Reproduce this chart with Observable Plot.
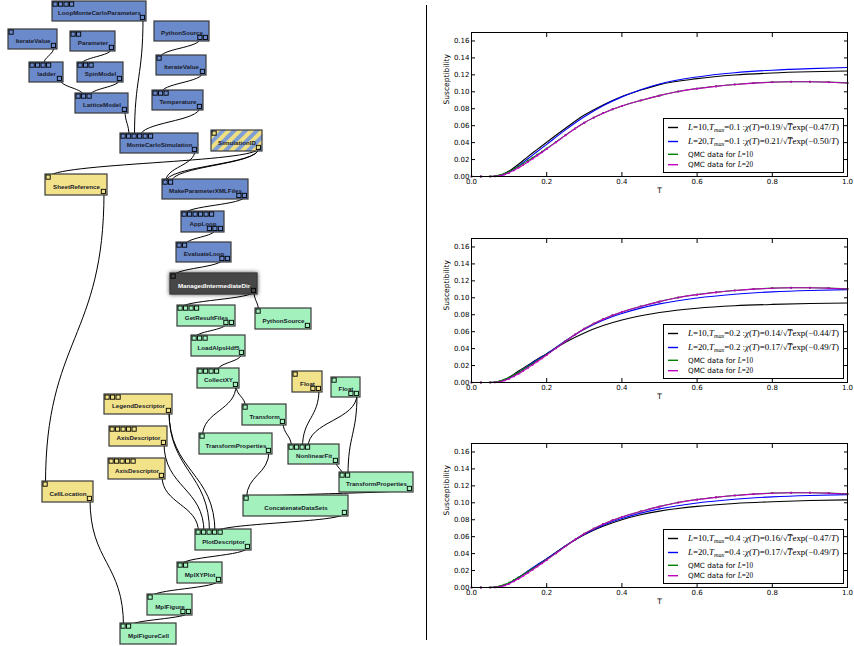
<!DOCTYPE html>
<html><head><meta charset="utf-8">
<script src="https://cdn.jsdelivr.net/npm/d3@7"></script>
<script src="https://cdn.jsdelivr.net/npm/@observablehq/plot@0.6"></script>
<style>
body{margin:0;background:#fff;}
#root{position:relative;width:854px;height:646px;overflow:hidden;background:#fff;}
#sep{position:absolute;left:426px;top:5px;width:0;height:635px;border-left:1px solid #000;}
</style></head><body><div id="root"><div id="sep"></div></div>
<script>
// ---------------- chart data ----------------
const xTicks = [0, 0.2, 0.4, 0.6, 0.8, 1.0];
const yTicks = [0, 0.02, 0.04, 0.06, 0.08, 0.10, 0.12, 0.14, 0.16];
const T = [0,0.05,0.0625,0.075,0.0875,0.1,0.125,0.15,0.175,0.2,0.25,0.3,0.35,0.4,0.45,0.5,0.6,0.7,0.8,0.9,1.0];
const fit1L10 = [0,0,0.0002,0.0012,0.0033,0.0065,0.0145,0.0235,0.032,0.0405,0.057,0.0725,0.0845,0.0945,0.102,0.1085,0.1155,0.1198,0.1222,0.1236,0.1245];
const fit1L20 = [0,0,0.0001,0.0008,0.0025,0.0052,0.0125,0.021,0.0295,0.038,0.055,0.0705,0.0835,0.094,0.1025,0.1092,0.1175,0.1225,0.1255,0.1274,0.1287];
const fit2L10 = [0,0,0.0003,0.0015,0.0035,0.0062,0.0135,0.0205,0.0275,0.034,0.0475,0.0585,0.0672,0.0738,0.0788,0.0826,0.0877,0.0906,0.0922,0.0932,0.0938];
const fit2L20 = [0,0,0.0001,0.0009,0.0026,0.005,0.0118,0.0195,0.0268,0.0338,0.0492,0.0628,0.0735,0.0815,0.0878,0.0928,0.0998,0.1042,0.107,0.1087,0.1097];
const fit3L10 = [0,0,0.0001,0.0009,0.0026,0.005,0.012,0.019,0.0265,0.034,0.049,0.0622,0.0722,0.08,0.0858,0.0902,0.0958,0.0992,0.1013,0.1027,0.1035];
const fit3L20 = [0,0,0.0001,0.0009,0.0026,0.005,0.0118,0.0195,0.0268,0.0338,0.0492,0.0628,0.0735,0.0815,0.0878,0.0928,0.0998,0.1042,0.107,0.1087,0.1097];
const Tq = [0,0.025,0.05,0.0625,0.075,0.0875,0.1,0.1125,0.125,0.1375,0.15,0.1625,0.175,0.1875,0.2,0.225,0.25,0.275,0.3,0.325,0.35,0.375,0.4,0.45,0.5,0.55,0.6,0.65,0.7,0.75,0.8,0.85,0.9,0.95,1.0];
const qmcL10 = [0,0,0.0001,0.0004,0.0016,0.0034,0.0057,0.0087,0.0118,0.0152,0.0187,0.0222,0.0258,0.0294,0.033,0.0408,0.0488,0.0565,0.0635,0.0695,0.0747,0.0793,0.0833,0.0898,0.0955,0.1003,0.1038,0.1065,0.1087,0.1103,0.1114,0.1119,0.1119,0.1114,0.1105];
const qmcL20 = [0,0,0,0.0001,0.0009,0.0023,0.0044,0.0072,0.0103,0.0137,0.0172,0.0209,0.0247,0.0286,0.0324,0.0404,0.0486,0.0564,0.0635,0.0695,0.0747,0.0793,0.0833,0.0898,0.0955,0.1003,0.1037,0.1064,0.1086,0.1102,0.1113,0.1118,0.1118,0.1113,0.1104];
const Tmax = ["0.1", "0.2", "0.4"];
const coefL10 = [["0.19","0.47"],["0.14","0.44"],["0.16","0.47"]];
const coefL20 = [["0.21","0.50"],["0.17","0.49"],["0.17","0.49"]];
const seriesColors = ["#000000", "#0000ff", "#008000", "#bf00bf"];

// ---------------- workflow data ----------------
const nodeNames = ["LoopMonteCarloParameters","IterateValue","Parameter","ladder","SpinModel","LatticeModel","PythonSource","IterateValue","Temperature","MonteCarloSimulation","SimulationID","SheetReference","MakeParameterXMLFiles","AppLoop","EvaluateLoop","ManagedIntermediateDir","GetResultFiles","PythonSource","LoadAlpsHdf5","CollectXY","Float","Float","LegendDescriptor","Transform","AxisDescriptor","TransformProperties","NonlinearFit","AxisDescriptor","TransformProperties","CellLocation","ConcatenateDataSets","PlotDescriptor","MplXYPlot","MplFigure","MplFigureCell"];
const nodeX1 = [52,8,70,29,77,75,154,156,152,120,211,45,162,181,176,170,177,255,191,197,292,331,104,242,109,199,288,108,339,42,243,195,177,147,120];
const nodeY1 = [1,29,31,62,62,93,21,55,90,133,130,174,179,211,242,273,305,308,335,368,371,377,394,404,426,433,444,458,472,481,495,529,562,594,623];
const nodeX2 = [146,57,115,63,123,128,209,206,203,198,262,107,248,224,231,257,235,311,245,239,322,360,172,286,167,272,339,165,413,93,348,251,222,192,176];
const nodeY2 = [21,49,51,82,82,113,41,75,110,153,151,195,199,232,262,294,326,329,356,388,392,397,414,425,446,454,464,479,492,502,516,550,583,615,644];
const nodeKind = ["blue","blue","blue","blue","blue","blue","blue","blue","blue","blue","stripes","yellow","blue","blue","blue","dark","green","green","green","green","yellow","green","yellow","green","yellow","green","green","yellow","green","yellow","green","green","green","green","green"];
const nodeIn = [4,1,2,4,3,3,0,1,3,6,1,1,2,6,2,1,4,1,3,4,1,1,3,1,5,1,4,5,2,1,1,5,2,1,2];
const nodeOut = [1,1,1,1,1,1,2,1,1,1,1,1,2,3,2,1,2,1,1,1,2,2,1,1,1,1,1,1,1,1,1,1,1,2,0];
// connections: [from node, output port counted from right, to node, input port]
const conns = [[1,0,3,2],[2,0,4,0],[3,0,5,1],[4,0,5,2],[5,0,9,1],[0,0,9,2],[8,0,9,3],[6,1,7,0],[7,0,8,1],[9,0,12,0],[10,0,12,1],[10,0,12,0],[10,0,11,0],[12,0,13,0],[13,1,14,1],[14,1,15,0],[15,0,16,0],[15,0,17,0],[16,1,18,0],[18,0,19,3],[19,0,23,0],[19,0,25,0],[23,0,26,0],[20,0,26,2],[21,0,26,3],[21,0,28,1],[26,0,28,0],[25,0,30,0],[28,0,30,0],[30,0,31,3],[22,0,31,2],[22,0,31,3],[24,0,31,1],[27,0,31,0],[31,0,32,0],[32,0,33,0],[33,0,34,1],[29,0,34,0],[11,0,29,0]];

const root = document.getElementById("root");

// ---------------- workflow diagram ----------------
(function(){
  const kindFill = {blue:"#6a8acb", green:"#a3f2bd", yellow:"#f2e38a", dark:"#474747", stripes:"url(#stripes)"};
  const nodes = nodeNames.map((name,i)=>({name, x1:nodeX1[i], y1:nodeY1[i], x2:nodeX2[i], y2:nodeY2[i], kind:nodeKind[i], nIn:nodeIn[i], nOut:nodeOut[i]}));
  const P = 5.5, S = 4.2;
  const ports = [];
  nodes.forEach(n => {
    for (let i=0;i<n.nIn;i++) ports.push({x1:n.x1+1+P*i, y1:n.y1+1, x2:n.x1+1+P*i+S, y2:n.y1+1+S});
    for (let k=0;k<n.nOut;k++) ports.push({x1:n.x2-1.5-S-P*k, y1:n.y2-1.5-S, x2:n.x2-1.5-P*k, y2:n.y2-1.5});
  });
  const links = conns.map(([a,k,b,i]) => ({
    x1: nodes[a].x2 - 3.5 - P*k, y1: nodes[a].y2 - 3.5,
    x2: nodes[b].x1 + 3 + P*i, y2: nodes[b].y1 + 3
  }));
  const svg = Plot.plot({
    width: 430, height: 646, margin: 0,
    x: {domain:[0,430], range:[0,430], axis:null},
    y: {domain:[0,646], range:[0,646], axis:null},
    color: {type:"identity"},
    style: {background:"transparent", overflow:"visible"},
    marks: [
      Plot.link(links, {x1:"x1", y1:"y1", x2:"x2", y2:"y2", curve:"bump-y", stroke:"#000", strokeWidth:1}),
      Plot.rect(nodes, {x1:"x1", y1:"y1", x2:"x2", y2:"y2", fill: d=>kindFill[d.kind], stroke:"#3a3a3a", strokeWidth:1.2}),
      Plot.rect(ports, {x1:"x1", y1:"y1", x2:"x2", y2:"y2", fill:"none", stroke:"#000", strokeWidth:0.9}),
      Plot.text(nodes, {x: d=>(d.x1+d.x2)/2, y: d=>d.y1+(d.y2-d.y1)*0.6, text:"name", fontSize:6.2, fontWeight:"bold", fontFamily:"Liberation Sans, Arial, sans-serif", fill: d=> d.kind==="dark" ? "#ffffff" : "#1a1a2a", lineAnchor:"middle"})
    ]
  });
  const d3svg = d3.select(svg);
  const defs = d3svg.insert("defs", ":first-child");
  const pat = defs.append("pattern").attr("id","stripes").attr("patternUnits","userSpaceOnUse").attr("width",8).attr("height",8).attr("patternTransform","rotate(45)");
  pat.append("rect").attr("width",8).attr("height",8).attr("fill","#efdf80");
  pat.append("rect").attr("width",4).attr("height",8).attr("fill","#7f9fd4");
  svg.querySelectorAll('rect[fill="#474747"]').forEach(r => r.style.filter = "drop-shadow(0px 0px 2px rgba(0,0,0,0.7))");
  svg.style.position = "absolute"; svg.style.left = "0px"; svg.style.top = "0px";
  root.appendChild(svg);
})();

// ---------------- charts ----------------
function drawChart(idx, top, fitA, fitB) {
  const rows = (xs, ys) => xs.map((t,i)=>({T:t, v:ys[i]}));
  const a = rows(T, fitA), b = rows(T, fitB), g = rows(Tq, qmcL10), m = rows(Tq, qmcL20);
  const svg = Plot.plot({
    width: 424, height: 200, marginLeft: 41, marginRight: 7, marginTop: 32, marginBottom: 24,
    x: {domain:[0,1]},
    y: {domain:[0,0.17]},
    style: {background:"transparent", fontFamily:"DejaVu Sans, sans-serif", fontSize:"7px", color:"#000", overflow:"visible"},
    marks: [
      Plot.line(a, {x:"T", y:"v", stroke: seriesColors[0], strokeWidth:1.1, curve:"monotone-x"}),
      Plot.line(b, {x:"T", y:"v", stroke: seriesColors[1], strokeWidth:1.1, curve:"monotone-x"}),
      Plot.line(g, {x:"T", y:"v", stroke: seriesColors[2], strokeWidth:1.1, curve:"monotone-x"}),
      Plot.dot(g, {x:"T", y:"v", fill: seriesColors[2], symbol:"square", r:1}),
      Plot.line(m, {x:"T", y:"v", stroke: seriesColors[3], strokeWidth:1.1, curve:"monotone-x"}),
      Plot.dot(m, {x:"T", y:"v", fill: seriesColors[3], symbol:"square", r:1}),
      Plot.frame({stroke:"#000", strokeWidth:1}),
      Plot.axisX({ticks: xTicks, tickFormat: d3.format(".1f"), tickSize:-4, tickPadding:7, label:null}),
      Plot.axisX({anchor:"top", ticks: xTicks, tickFormat: () => "", tickSize:-4, label:null}),
      Plot.axisY({ticks: yTicks, tickFormat: d3.format(".2f"), tickSize:-4, tickPadding:6, label:null}),
      Plot.axisY({anchor:"right", ticks: yTicks, tickFormat: () => "", tickSize:-4, label:null}),
      Plot.text(["T"], {frameAnchor:"bottom", dy:14, lineAnchor:"middle", fontSize:7.5}),
      Plot.text(["Susceptibility"], {frameAnchor:"left", rotate:-90, dx:-25, lineAnchor:"middle", fontSize:7.5})
    ]
  });
  svg.style.position = "absolute"; svg.style.left = "430px"; svg.style.top = top + "px";
  root.appendChild(svg);

  // legend
  const lg = d3.select(root).append("svg")
    .style("position","absolute").style("left","663px").style("top", (top + 176 - 58) + "px")
    .attr("width", 181).attr("height", 55);
  lg.append("rect").attr("x",0.5).attr("y",0.5).attr("width",180).attr("height",54).attr("fill","#fff").attr("stroke","#000").attr("stroke-width",1);
  const rowY = [9.5, 23.5, 36.3, 46.7];
  const serif = "Liberation Serif, DejaVu Serif, serif";
  rowY.forEach((y,i) => {
    lg.append("line").attr("x1",5).attr("x2",15).attr("y1",y).attr("y2",y).attr("stroke",seriesColors[i]).attr("stroke-width",1.4);
  });
  function fitLabel(y, L, c) {
    const t = lg.append("text").attr("x",25).attr("y",y).attr("dy","0.35em").attr("font-family",serif).attr("font-size",7.4)
      .attr("textLength",151).attr("lengthAdjust","spacingAndGlyphs");
    const parts = [["L","i"],["=" + L + ",",""],["T","i"],["max","sub"],["=" + Tmax[idx] + " :",""],["χ","i"],["(",""],["T","i"],[")=" + c[0] + "/√",""],["T","o"],["exp(−" + c[1] + "/",""],["T","i"],[")",""]];
    parts.forEach(([s,k]) => {
      const ts = t.append("tspan").text(s);
      if (k === "i" || k === "o" || k === "sub") ts.attr("font-style","italic");
      if (k === "o") ts.style("text-decoration","overline");
      if (k === "sub") { ts.attr("font-size",5.2).attr("dy","1.5"); }
      if (k === "sub") ts.attr("data-sub","1");
    });
    t.selectAll("tspan").each(function(d,j,nodes){
      const prev = j > 0 ? nodes[j-1] : null;
      if (prev && prev.getAttribute("data-sub")) d3.select(this).attr("dy","-1.5");
    });
  }
  fitLabel(rowY[0], "10", coefL10[idx]);
  fitLabel(rowY[1], "20", coefL20[idx]);
  ["10","20"].forEach((L,j) => {
    const t = lg.append("text").attr("x",25).attr("y",rowY[2+j]).attr("dy","0.35em").attr("font-size",7.2).attr("font-family","DejaVu Sans, sans-serif");
    t.append("tspan").text("QMC data for ");
    t.append("tspan").attr("font-family",serif).attr("font-style","italic").text("L");
    t.append("tspan").attr("font-family",serif).text("=" + L);
  });
}
drawChart(0, 0, fit1L10, fit1L20);
drawChart(1, 206, fit2L10, fit2L20);
drawChart(2, 411, fit3L10, fit3L20);
</script></body></html>
